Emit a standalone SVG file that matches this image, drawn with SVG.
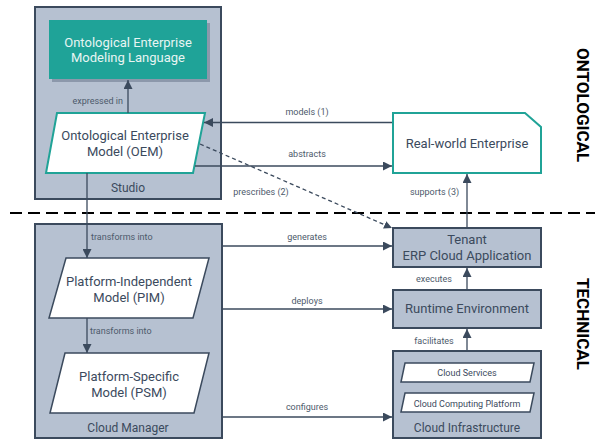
<svg xmlns="http://www.w3.org/2000/svg" width="595" height="441" viewBox="0 0 595 441">
<defs>
<marker id="ah" viewBox="0 0 10 10" refX="10" refY="5" markerWidth="9" markerHeight="9" markerUnits="userSpaceOnUse" orient="auto">
<path d="M0,0 L10,5 L0,10 z" fill="#3b4a5d"/>
</marker>
<marker id="ahs" viewBox="0 0 10 10" refX="10" refY="5" markerWidth="8" markerHeight="8" markerUnits="userSpaceOnUse" orient="auto">
<path d="M0,0 L10,5 L0,10 z" fill="#3b4a5d"/>
</marker>
</defs>
<style>
.cont{fill:#b6c1d1;stroke:#3b4a5d;stroke-width:2}
.box{fill:#b6c1d1;stroke:#3b4a5d;stroke-width:2}
.teal{fill:#fff;stroke:#20a397;stroke-width:2}
.sub{fill:#fff;stroke:#3b4a5d;stroke-width:1.5}
.wp{fill:#fff;stroke:#3b4a5d;stroke-width:1.5}
text{font-family:Roboto,"Liberation Sans",sans-serif}
.nt{font-size:13px;fill:#3b4a5d;text-anchor:middle}
.ct{font-size:12px;fill:#3b4a5d;text-anchor:middle}
.st{font-size:9px;fill:#3b4a5d;text-anchor:middle}
.el{font-size:9px;fill:#4d5a6b}
.lt{font-size:13px;fill:#e8f5f3;text-anchor:middle}
.side{font-size:17px;font-weight:bold;fill:#000}
.edge{stroke:#3b4a5d;stroke-width:1.3;fill:none}
</style>

<g id="studio">
<rect class="cont" x="35" y="7" width="186" height="192"/>
<text class="ct" x="128" y="192">Studio</text>
</g>
<g id="cloud-manager">
<rect class="cont" x="35" y="224" width="187" height="214"/>
<text class="ct" x="128" y="432">Cloud Manager</text>
</g>

<g id="oeml">
<rect x="52" y="23" width="158" height="59" fill="#8c98ab"/>
<rect x="49" y="20" width="158" height="59" fill="#1fa398"/>
<text class="lt" x="128" y="46.5">Ontological Enterprise</text>
<text class="lt" x="128" y="62">Modeling Language</text>
</g>

<g id="oem">
<polygon class="teal" points="57,113 205,113 193,173 46,173"/>
<text class="nt" x="125" y="139.5">Ontological Enterprise</text>
<text class="nt" x="125" y="155.5">Model (OEM)</text>
</g>

<g id="pim">
<polygon class="wp" points="66,258 209,258 193,318 49,318"/>
<text class="nt" x="129" y="285.5">Platform-Independent</text>
<text class="nt" x="129" y="301.5">Model (PIM)</text>
</g>

<g id="psm">
<polygon class="wp" points="65,353 209,353 194,413 50,413"/>
<text class="nt" x="129" y="380.5">Platform-Specific</text>
<text class="nt" x="129" y="396.5">Model (PSM)</text>
</g>

<g id="real-world-enterprise">
<path class="teal" d="M393,113 L525,113 L541,127 L541,173 L393,173 Z"/>
<text class="nt" x="467" y="147.5">Real-world Enterprise</text>
</g>

<g id="tenant">
<rect class="box" x="393" y="228" width="148" height="39"/>
<text class="nt" x="467" y="243.5">Tenant</text>
<text class="nt" x="467" y="259.5">ERP Cloud Application</text>
</g>

<g id="runtime">
<rect class="box" x="393" y="290" width="148" height="38"/>
<text class="nt" x="467" y="312.5">Runtime Environment</text>
</g>

<g id="cloud-infrastructure">
<rect class="box" x="393" y="351" width="148" height="87"/>
<text class="ct" x="467" y="432">Cloud Infrastructure</text>
</g>
<g id="cloud-services">
<polygon class="sub" points="405,363 534,363 530,382 401,382"/>
<text class="st" x="467" y="375.5">Cloud Services</text>
</g>
<g id="cloud-computing-platform">
<polygon class="sub" points="405,393 534,393 530,412 401,412"/>
<text class="st" x="467" y="406.5">Cloud Computing Platform</text>
</g>

<g id="separator">
<line x1="10" y1="213" x2="595" y2="213" stroke="#000" stroke-width="2" stroke-dasharray="12,6"/>
<text class="side" transform="translate(577,48) rotate(90)">ONTOLOGICAL</text>
<text class="side" transform="translate(577,278) rotate(90)">TECHNICAL</text>
</g>

<g id="connectors">
<line class="edge" x1="128" y1="113" x2="128" y2="80" marker-end="url(#ah)"/>
<text class="el" x="123" y="104" text-anchor="end">expressed in</text>

<line class="edge" x1="392" y1="122.5" x2="204" y2="122.5" marker-end="url(#ah)"/>
<text class="el" x="307" y="115" text-anchor="middle">models (1)</text>

<line class="edge" x1="195" y1="166" x2="392" y2="166" marker-end="url(#ah)"/>
<text class="el" x="307" y="157" text-anchor="middle">abstracts</text>

<line class="edge" x1="200" y1="144" x2="392" y2="228" stroke-dasharray="4,3" marker-end="url(#ahs)"/>
<text class="el" x="261" y="195" text-anchor="middle">prescribes (2)</text>

<line class="edge" x1="467" y1="228" x2="467" y2="174" marker-end="url(#ah)"/>
<text class="el" x="434.5" y="195" text-anchor="middle">supports (3)</text>

<line class="edge" x1="87" y1="173" x2="87" y2="258" marker-end="url(#ah)"/>
<text class="el" x="91" y="240">transforms into</text>

<line class="edge" x1="87" y1="318" x2="87" y2="353" marker-end="url(#ah)"/>
<text class="el" x="90" y="334">transforms into</text>

<line class="edge" x1="222" y1="246" x2="392" y2="246" marker-end="url(#ah)"/>
<text class="el" x="307" y="240" text-anchor="middle">generates</text>

<line class="edge" x1="222" y1="309" x2="392" y2="309" marker-end="url(#ah)"/>
<text class="el" x="307" y="304" text-anchor="middle">deploys</text>

<line class="edge" x1="222" y1="417" x2="392" y2="417" marker-end="url(#ah)"/>
<text class="el" x="307" y="410" text-anchor="middle">configures</text>

<line class="edge" x1="467" y1="290" x2="467" y2="268" marker-end="url(#ah)"/>
<text class="el" x="434" y="282" text-anchor="middle">executes</text>

<line class="edge" x1="467" y1="351" x2="467" y2="329" marker-end="url(#ah)"/>
<text class="el" x="434" y="344" text-anchor="middle">facilitates</text>
</g>
</svg>
